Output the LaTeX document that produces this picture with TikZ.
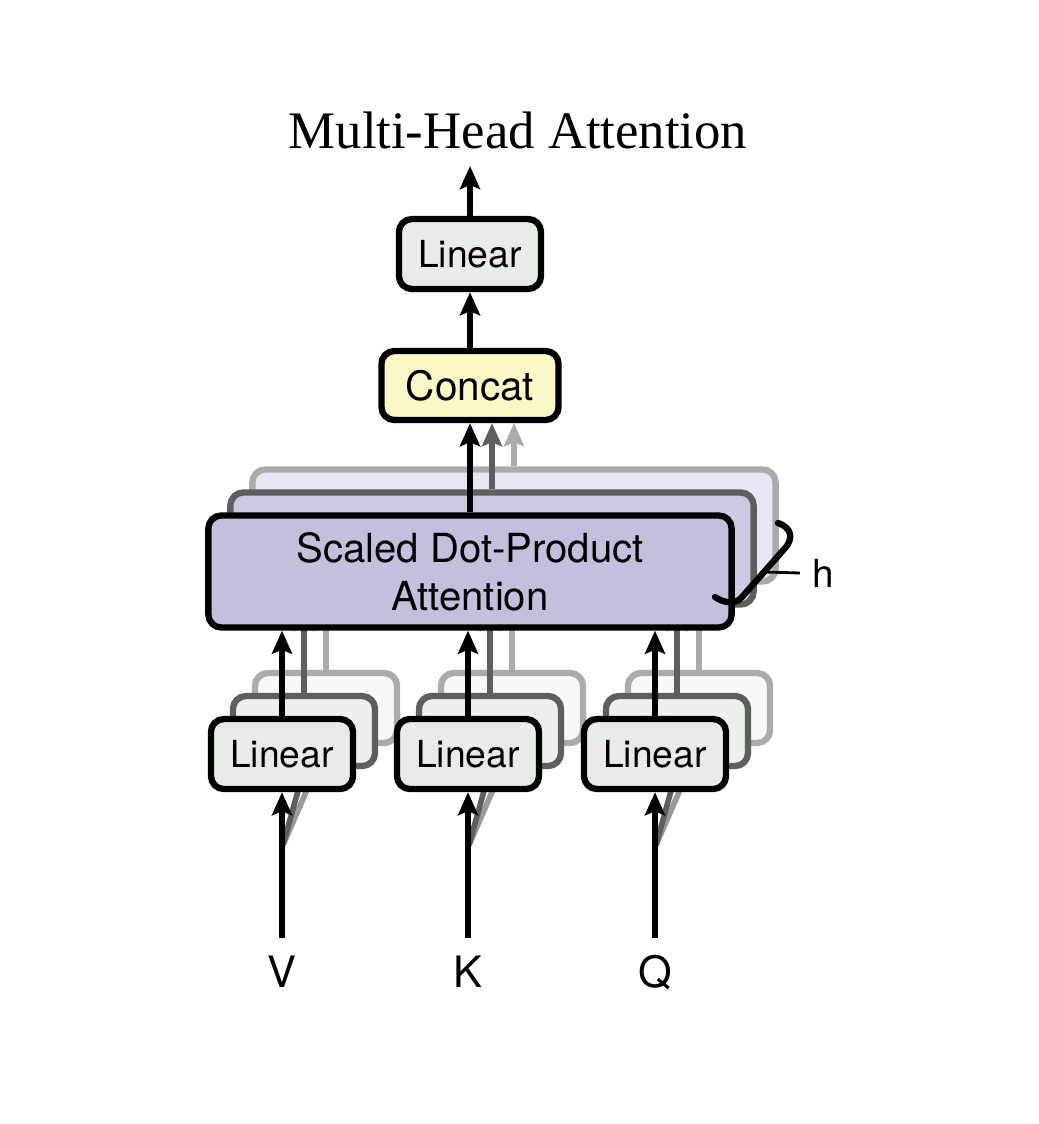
\documentclass[tikz,border=0pt]{standalone}
\usepackage{fontspec}
\setmainfont{Liberation Serif}
\newfontfamily\hsans{TeX Gyre Heros}
\usetikzlibrary{arrows.meta}
\definecolor{linfill}{HTML}{E8ECE9}
\definecolor{linfillb}{HTML}{EEF0EE}
\definecolor{linfillc}{HTML}{F7F8F7}
\definecolor{catfill}{HTML}{FBF8C8}
\definecolor{attfill}{HTML}{C5BFDD}
\definecolor{attfillb}{HTML}{CFCAE3}
\definecolor{attfillc}{HTML}{E8E6F2}
\definecolor{greyb}{HTML}{5E5E5E}
\definecolor{greyc}{HTML}{ABABAB}
\pgfdeclarelayer{bg}
\pgfdeclarelayer{backc}
\pgfdeclarelayer{backb}
\pgfsetlayers{bg,backc,backb,main}
\tikzset{
  box/.style={draw, line width=1.8pt, rounded corners=0.13cm, inner sep=0pt, align=center},
  linbox/.style={box, fill=linfill, minimum width=1.42cm, minimum height=0.70cm,
    font=\hsans\fontsize{10.6}{12}\selectfont},
  catbox/.style={box, fill=catfill, minimum width=1.77cm, minimum height=0.69cm,
    font=\hsans\fontsize{11.5}{13}\selectfont},
  attbox/.style={box, fill=attfill, minimum width=5.23cm, minimum height=1.12cm,
    font=\hsans\fontsize{11.4}{13.7}\selectfont},
  layb/.style={draw=greyb},
  layc/.style={draw=greyc},
  arr/.style={-{Stealth[length=0.23cm, width=0.2cm, inset=0.04cm]}, line width=1.8pt},
  thinarr/.style={-{Stealth[length=0.2cm, width=0.16cm, inset=0.03cm]}, line width=1.6pt},
  lbl/.style={font=\hsans\fontsize{12.3}{14}\selectfont},
}
\begin{document}
\begin{tikzpicture}[x=0.01cm, y=-0.01cm]
\useasboundingbox (0,0) rectangle (1038,1124);
\begin{pgfonlayer}{bg}
\fill[white] (0,0) rectangle (1038,1124);
\end{pgfonlayer}

% ---- front layer (main) ----
\node[linbox] (top) at (470,254) {Linear};
\node[catbox] (concat) at (470,385.5) {Concat};
\node[attbox] (att) at (470,571.5) {Scaled Dot-Product\\Attention};
\node[linbox] (v) at (282,754) {Linear};
\node[linbox] (k) at (468,754) {Linear};
\node[linbox] (q) at (655,754) {Linear};

\coordinate (out) at (470,166);
\coordinate (vin) at (282,938);
\coordinate (kin) at (468,938);
\coordinate (qin) at (655,938);
\coordinate (vsp) at (283,845);
\coordinate (ksp) at (469,845);
\coordinate (qsp) at (656,845);

\draw[arr] (top.north) -- (out);
\draw[arr] (concat.north) -- (top.south);
\draw[arr] (att.north) -- (concat.south);
\draw[arr] (v.north) -- (v.north |- att.south);
\draw[arr] (k.north) -- (k.north |- att.south);
\draw[arr] (q.north) -- (q.north |- att.south);
\draw[arr] (vin) -- (v.south);
\draw[arr] (kin) -- (k.south);
\draw[arr] (qin) -- (q.south);

\node[lbl] (vl) at (282,972) {V};
\node[lbl] (kl) at (468,972) {K};
\node[lbl] (ql) at (655,972) {Q};

\node (title) at (518,130) {\fontsize{15}{18}\selectfont Multi-Head Attention};

% h brace
\draw[line width=1.8pt, line cap=round]
  (778,523) .. controls (792,528) and (793,538) .. (786,547)
  -- (742,597) .. controls (735,605) and (724,603) .. (715,597);
\node[font=\hsans\fontsize{11}{13}\selectfont] (hl) at (823,573) {h};
\draw[line width=0.8pt] (765,572) -- (hl.west);

% ---- second layer ----
\begin{pgfonlayer}{backb}
\node[attbox, layb, fill=attfillb] (attb) at (492,548.5) {};
\node[linbox, layb, fill=linfillb] (vb) at (304,731) {};
\node[linbox, layb, fill=linfillb] (kb) at (490,731) {};
\node[linbox, layb, fill=linfillb] (qb) at (677,731) {};
\draw[arr, greyb] (attb.north) -- (attb.north |- concat.south);
\draw[arr, greyb] (vb.north) -- (vb.north |- attb.south);
\draw[arr, greyb] (kb.north) -- (kb.north |- attb.south);
\draw[arr, greyb] (qb.north) -- (qb.north |- attb.south);
\draw[thinarr, greyb] (vsp) -- (vb.south);
\draw[thinarr, greyb] (ksp) -- (kb.south);
\draw[thinarr, greyb] (qsp) -- (qb.south);
\end{pgfonlayer}

% ---- third layer ----
\begin{pgfonlayer}{backc}
\node[attbox, layc, fill=attfillc] (attc) at (514,525.5) {};
\node[linbox, layc, fill=linfillc] (vc) at (326,708) {};
\node[linbox, layc, fill=linfillc] (kc) at (512,708) {};
\node[linbox, layc, fill=linfillc] (qc) at (699,708) {};
\draw[arr, greyc] (attc.north) -- (attc.north |- concat.south);
\draw[arr, greyc] (vc.north) -- (vc.north |- attc.south);
\draw[arr, greyc] (kc.north) -- (kc.north |- attc.south);
\draw[arr, greyc] (qc.north) -- (qc.north |- attc.south);
\draw[thinarr, greyc!120] (vsp) -- (vc.south);
\draw[thinarr, greyc!120] (ksp) -- (kc.south);
\draw[thinarr, greyc!120] (qsp) -- (qc.south);
\end{pgfonlayer}
\end{tikzpicture}
\end{document}
